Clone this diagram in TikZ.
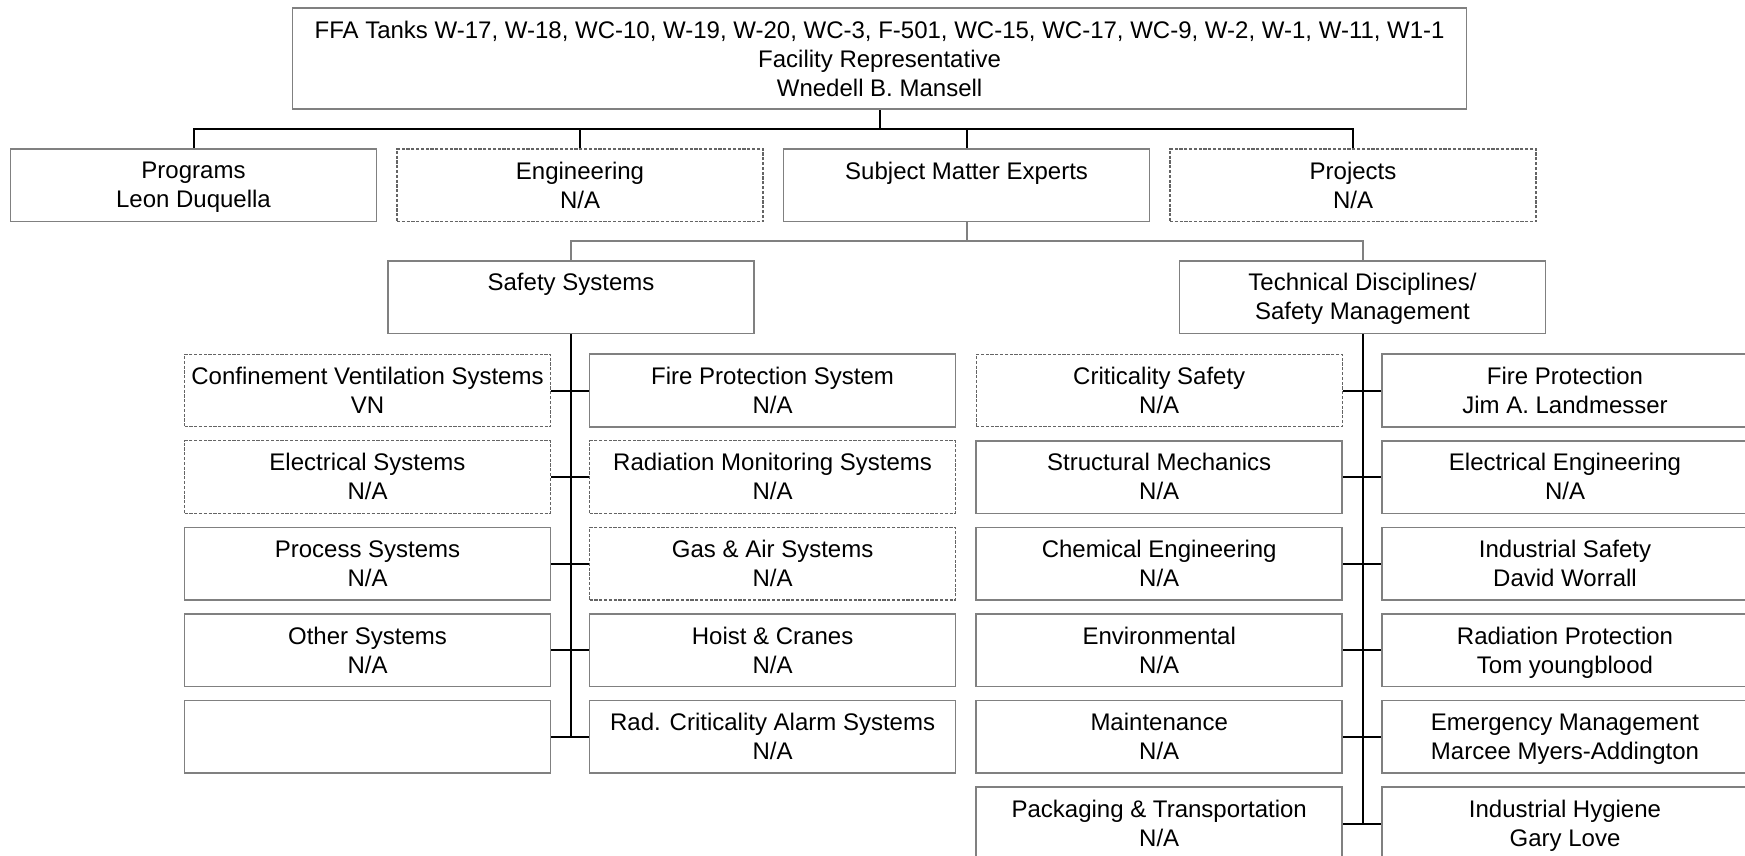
\documentclass[tikz,border=0pt]{standalone}
\usepackage{fontspec}
\setmainfont{Liberation Sans}
\tikzset{
  unit/.style={draw=boxgray, line width=0.8pt, fill=white, align=center,
    minimum width=183pt, minimum height=36.3pt, inner sep=1pt, text depth=0.4pt,
    font=\fontsize{12}{14.5}\selectfont},
  dunit/.style={unit, draw=dashgray, line width=0.6pt, dash pattern=on 1.6pt off 0.8pt},
  link/.style={line width=1pt, black},
  glink/.style={line width=1pt, boxgray}
}
\definecolor{boxgray}{RGB}{128,128,128}
\definecolor{dashgray}{RGB}{100,100,100}
\begin{document}
\begin{tikzpicture}[x=0.5pt, y=-0.5pt]
\useasboundingbox (0,0) rectangle (1745,856);
% top of the chart
\node[unit, minimum width=587pt, minimum height=50.5pt] (top) at (879.6,58.8)
  {FFA Tanks W-17, W-18, WC-10, W-19, W-20, WC-3, F-501, WC-15, WC-17, WC-9, W-2, W-1, W-11, W1-1\\Facility Representative\\Wnedell B. Mansell};
\node[unit] (prog) at (193.5,185.3) {Programs\\Leon Duquella};
\node[dunit] (eng) at (580,185.3) {Engineering\\N/A};
\node[unit] (sme) at (966.6,185.3) {Subject Matter Experts\\~};
\node[dunit] (proj) at (1353,185.3) {Projects\\N/A};
\coordinate (bus1) at (0,129.3);
\coordinate (bus2) at (0,241);
% second level
\node[unit] (ss) at (571,297) {Safety Systems\\~};
\node[unit] (td) at (1362.5,297) {Technical Disciplines/\\Safety Management};
% safety systems
\node[dunit] (ssl1) at (367.5,390.5) {Confinement Ventilation Systems\\VN};
\node[unit] (ssr1) at (772.6,390.5) {Fire Protection System\\N/A};
\node[dunit] (ssl2) at (367.5,477.1) {Electrical Systems\\N/A};
\node[dunit] (ssr2) at (772.6,477.1) {Radiation Monitoring Systems\\N/A};
\node[unit] (ssl3) at (367.5,563.7) {Process Systems\\N/A};
\node[dunit] (ssr3) at (772.6,563.7) {Gas \& Air Systems\\N/A};
\node[unit] (ssl4) at (367.5,650.3) {Other Systems\\N/A};
\node[unit] (ssr4) at (772.6,650.3) {Hoist \& Cranes\\N/A};
\node[unit] (ssl5) at (367.5,736.9) {};
\node[unit] (ssr5) at (772.6,736.9) {Rad. Criticality Alarm Systems\\N/A};
% technical disciplines
\node[dunit] (tdl1) at (1159.2,390.5) {Criticality Safety\\N/A};
\node[unit] (tdr1) at (1565,390.5) {Fire Protection\\Jim A. Landmesser};
\node[unit] (tdl2) at (1159.2,477.1) {Structural Mechanics\\N/A};
\node[unit] (tdr2) at (1565,477.1) {Electrical Engineering\\N/A};
\node[unit] (tdl3) at (1159.2,563.7) {Chemical Engineering\\N/A};
\node[unit] (tdr3) at (1565,563.7) {Industrial Safety\\David Worrall};
\node[unit] (tdl4) at (1159.2,650.3) {Environmental\\N/A};
\node[unit] (tdr4) at (1565,650.3) {Radiation Protection\\Tom youngblood};
\node[unit] (tdl5) at (1159.2,736.9) {Maintenance\\N/A};
\node[unit] (tdr5) at (1565,736.9) {Emergency Management\\Marcee Myers-Addington};
\node[unit] (tdl6) at (1159.2,823.5) {Packaging \& Transportation\\N/A};
\node[unit] (tdr6) at (1565,823.5) {Industrial Hygiene\\Gary Love};
% connectors
\draw[link] (top.south) -- (top.south |- bus1);
\draw[link] (prog.north) -- (prog.north |- bus1) -- (proj.north |- bus1) -- (proj.north);
\draw[link] (eng.north) -- (eng.north |- bus1);
\draw[link] (sme.north) -- (sme.north |- bus1);
\draw[glink] (sme.south) -- (sme.south |- bus2);
\draw[glink] (ss.north) -- (ss.north |- bus2) -- (td.north |- bus2) -- (td.north);
\draw[link] (ss.south) -- (ss.south |- ssl5.east);
\draw[link] (ssl1.east) -- (ssr1.west);
\draw[link] (ssl2.east) -- (ssr2.west);
\draw[link] (ssl3.east) -- (ssr3.west);
\draw[link] (ssl4.east) -- (ssr4.west);
\draw[link] (ssl5.east) -- (ssr5.west);
\draw[link] (td.south) -- (td.south |- tdl6.east);
\draw[link] (tdl1.east) -- (tdr1.west);
\draw[link] (tdl2.east) -- (tdr2.west);
\draw[link] (tdl3.east) -- (tdr3.west);
\draw[link] (tdl4.east) -- (tdr4.west);
\draw[link] (tdl5.east) -- (tdr5.west);
\draw[link] (tdl6.east) -- (tdr6.west);
\end{tikzpicture}
\end{document}
